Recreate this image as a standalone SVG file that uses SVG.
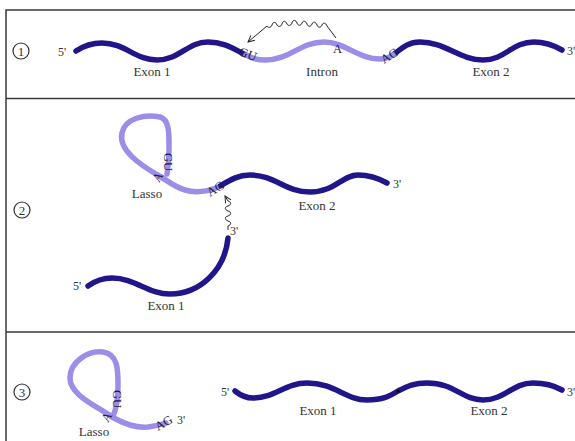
<svg xmlns="http://www.w3.org/2000/svg" width="575" height="441" viewBox="0 0 575 441">
<defs>
<style>
.frame{stroke:#3a3a3a;stroke-width:1.5;fill:none}
.exon{stroke:#20158a;stroke-width:5.5;fill:none;stroke-linecap:round}
.intron{stroke:#9b8de8;stroke-width:5.5;fill:none;stroke-linecap:round}
.wavy{stroke:#222;stroke-width:1;fill:none;stroke-linejoin:round}
.lbl{font-family:"Liberation Serif","Times New Roman",serif;font-size:13px;fill:#333}
.sm{font-family:"Liberation Serif","Times New Roman",serif;font-size:12px;fill:#333}
.nt{font-family:"Liberation Serif","Times New Roman",serif;font-size:12.5px;fill:#1a1a3a}
.num{stroke:#333;stroke-width:1.2;fill:#fff}
.numt{font-family:"Liberation Serif","Times New Roman",serif;font-size:13px;fill:#333;text-anchor:middle}
</style>
<marker id="open" viewBox="0 0 10 10" refX="9" refY="5" markerWidth="8" markerHeight="8" orient="auto" markerUnits="userSpaceOnUse">
<path d="M1,1 L9,5 L1,9" fill="none" stroke="#222" stroke-width="1.2"/>
</marker>
</defs>
<rect width="575" height="441" fill="#fff"/>
<g id="frame">
<path class="frame" d="M6,441 V10 H575 M6,98.5 H575 M6,332 H575"/>
</g>

<!-- Panel 1 -->
<g id="step1-label"><circle class="num" cx="21" cy="51" r="8"/><text class="numt" x="21" y="55.5">1</text></g>
<g id="p1-exon1">
<path class="exon" d="M76,51 C85,45 92,43 102,43 C125,43 135,60 157,60 C180,60 187,42 208,42 C225,42 235,50 246,55"/>
<text class="sm" x="58" y="56">5'</text>
<text class="lbl" x="152" y="76" text-anchor="middle">Exon 1</text>
</g>
<g id="p1-exon2">
<path class="exon" d="M393,55 C402,48 408,42 420,42 C445,42 460,60 483,60 C505,60 512,42 534,42 C547,42 555,46 562,50"/>
<text class="lbl" x="491" y="76" text-anchor="middle">Exon 2</text>
<text class="sm" x="567" y="55">3'</text>
</g>
<g id="p1-intron">
<path class="intron" d="M246,55 C252,58 256,60 265,60 C290,60 300,42 324,42 C345,42 358,59 380,59 C386,59 390,57 393,55"/>
<text class="lbl" x="322" y="76" text-anchor="middle">Intron</text>
<text class="nt" transform="translate(238,55) rotate(20)">GU</text>
<text class="nt" x="333" y="53">A</text>
<text class="nt" transform="translate(384,64) rotate(-32)">AG</text>
</g>

<!-- Panel 2 -->
<g id="step2-label"><circle class="num" cx="22" cy="210" r="8"/><text class="numt" x="22" y="214.5">2</text></g>
<g id="p2-exon2">
<path class="exon" d="M220,186 C230,180 238,175 250,175 C275,175 285,192 310,192 C335,192 342,175 358,175 C370,175 378,178 387,183"/>
<text class="lbl" x="317" y="210" text-anchor="middle">Exon 2</text>
<text class="sm" x="393" y="188">3'</text>
</g>
<g id="p2-lasso">
<path class="intron" d="M216,188 C205,192 195,193 185,190 C175,187 168,181 161,177"/>
<path class="intron" d="M161,177 C140,165 118,150 122,133 C125,118 145,114 160,117 C170,120 169,135 169,150 C169,160 168,168 167,174"/>
<text class="nt" transform="translate(164,153) rotate(90)">GU</text>
<text class="nt" transform="translate(159,183) rotate(-60)">A</text>
<text class="nt" transform="translate(210,197) rotate(-32)">AG</text>
<text class="lbl" x="147" y="198" text-anchor="middle">Lasso</text>
</g>
<g id="p2-exon1">
<path class="exon" d="M88,286 C95,281 102,278 112,278 C135,278 148,294 170,294 C200,294 225,270 228,238"/>
<text class="sm" x="73" y="290">5'</text>
<text class="lbl" x="166" y="310" text-anchor="middle">Exon 1</text>
<text class="sm" x="230" y="235">3'</text>
</g>

<!-- Panel 3 -->
<g id="step3-label"><circle class="num" cx="22" cy="392" r="8"/><text class="numt" x="22" y="396.5">3</text></g>
<g id="p3-lasso">
<path class="intron" d="M112,417 C125,424 135,428 148,427 C155,426 160,425 166,423"/>
<path class="intron" d="M112,417 C95,405 70,395 70,378 C70,362 88,350 103,352 C118,354 118,370 118,385 C118,400 116,410 113,416"/>
<text class="nt" transform="translate(113,390) rotate(90)">GU</text>
<text class="nt" transform="translate(108,423) rotate(-60)">A</text>
<text class="nt" transform="translate(158,431) rotate(-30)">AG</text>
<text class="sm" x="177" y="424">3'</text>
<text class="lbl" x="94" y="436" text-anchor="middle">Lasso</text>
</g>
<g id="p3-mrna">
<path class="exon" d="M235,391 C240,395 245,398 253,398 C275,398 285,383 307,383 C335,383 345,400 367,400 C383,400 390,396 398,391 C408,386 414,383 427,383 C455,383 462,400 483,400 C505,400 512,383 533,383 C547,383 555,386 562,390"/>
<circle cx="398" cy="391" r="1.6" fill="#000"/>
<text class="sm" x="221" y="396">5'</text>
<text class="lbl" x="318" y="415" text-anchor="middle">Exon 1</text>
<text class="lbl" x="489" y="415" text-anchor="middle">Exon 2</text>
<text class="sm" x="567" y="396">3'</text>
</g>

<g id="connectors">
<path class="wavy" marker-end="url(#open)" d="M336,38 L327,26 c-1,-3 -4,-4 -5,-1 c-1,3 -4,3 -5,0 c-1,-3 -4,-4 -5,-1 c-1,3 -4,3 -5,0 c-1,-3 -4,-4 -5,-1 c-1,3 -4,3 -5,0 c-1,-3 -4,-4 -5,0 c-1,3 -4,3 -5,1 c-1,-3 -4,-4 -5,0 c-1,3 -4,3 -5,1 c-1,-3 -4,-4 -5,0 c-1,3 -4,3 -5,1 L248,42"/>
<path class="wavy" marker-end="url(#open)" d="M228,230 L228,226 c3,-1 4,-4 0,-5 c-3,-1 -4,-4 0,-5 c3,-1 4,-4 0,-5 c-3,-1 -4,-4 0,-5 c3,-1 4,-4 0,-5 L225,196"/>
</g>
</svg>
